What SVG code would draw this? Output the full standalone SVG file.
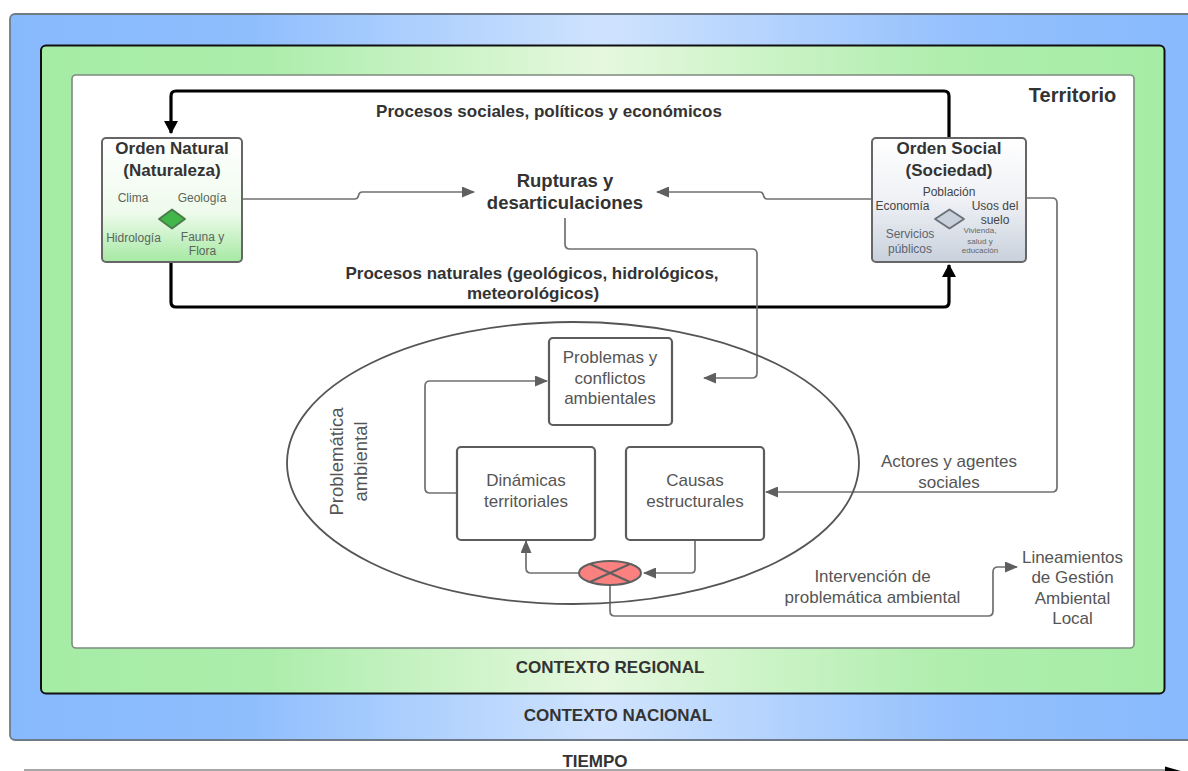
<svg xmlns="http://www.w3.org/2000/svg" width="1188" height="771" viewBox="0 0 1188 771">
<defs>
<linearGradient id="gBlue" x1="0" y1="0" x2="1" y2="0"><stop offset="0" stop-color="#87b9fd"/><stop offset="0.2" stop-color="#8fbefd"/><stop offset="0.5" stop-color="#cfe3fe"/><stop offset="0.8" stop-color="#94c0fd"/><stop offset="1" stop-color="#87b9fd"/></linearGradient>
<linearGradient id="gGreen" x1="0" y1="0" x2="1" y2="0"><stop offset="0" stop-color="#a5eca5"/><stop offset="0.2" stop-color="#acedab"/><stop offset="0.5" stop-color="#e6f8de"/><stop offset="0.8" stop-color="#b0eeae"/><stop offset="1" stop-color="#a5eca5"/></linearGradient>
<linearGradient id="gNat" x1="0" y1="0" x2="0" y2="1"><stop offset="0" stop-color="#ffffff"/><stop offset="0.6" stop-color="#eefbec"/><stop offset="1" stop-color="#a6e9a2"/></linearGradient>
<linearGradient id="gSoc" x1="0" y1="0" x2="0" y2="1"><stop offset="0" stop-color="#ffffff"/><stop offset="0.5" stop-color="#eff1f5"/><stop offset="1" stop-color="#c9d1dd"/></linearGradient>
<marker id="ag" markerUnits="userSpaceOnUse" markerWidth="13" markerHeight="11" refX="12" refY="5.500" orient="auto"><path d="M0 0L13 5.500L0 11Z" fill="#5f5f5f"/></marker>
<marker id="ab" markerUnits="userSpaceOnUse" markerWidth="13" markerHeight="14" refX="12" refY="7" orient="auto"><path d="M0 0L13 7L0 14Z" fill="#000"/></marker>
</defs>
<style>
text{font-family:"Liberation Sans",Arial,sans-serif;fill:#333;text-anchor:middle}
.b{font-weight:700}
.h{font-size:17px;font-weight:700}
.n{font-size:17px;fill:#555}
.g{fill:#5c665c;font-size:12px}
.t12{font-size:12px;fill:#444}.t8{font-size:8px;fill:#666}
.c{fill:none;stroke:#707070;stroke-width:1.700;marker-end:url(#ag)}
.k{fill:none;stroke:#000;stroke-width:3.200;marker-end:url(#ab)}
.box{fill:#fff;stroke:#5c5c5c;stroke-width:2.200}
</style>
<rect width="1188" height="771" fill="#fff"/>
<g id="contexto-nacional"><rect x="10" y="14" width="1190" height="726" rx="5" fill="url(#gBlue)" stroke="#707a86" stroke-width="1.800"/><text x="618" y="721" class="h">CONTEXTO NACIONAL</text></g>
<g id="contexto-regional"><rect x="41" y="45.500" width="1123.500" height="648" rx="5" fill="url(#gGreen)" stroke="#111" stroke-width="2"/><text x="610" y="673" class="h">CONTEXTO REGIONAL</text></g>
<g id="territorio"><rect x="72" y="75" width="1062" height="573" rx="4" fill="#fff" stroke="#7f8a7f" stroke-width="1.600"/><text x="1072.500" y="102" class="b" font-size="20">Territorio</text></g>
<g id="connectors">
<path class="k" d="M949 138V96Q949 91 944 91H176Q171 91 171 96V133"/>
<path class="k" d="M171 262V302Q171 307 176 307H944Q949 307 949 302V265"/>
<path class="c" d="M243 199H355Q357 199 358 197L359 194Q360 192 362 192H474"/>
<path class="c" d="M872 199H767Q765 199 764 197L763 194Q762 192 760 192H657"/>
<path class="c" d="M565 218V244Q565 249 570 249H752Q757 249 757 254V373Q757 378 752 378H704"/>
<path class="c" d="M1026 198H1052Q1057 198 1057 203V487Q1057 492 1052 492H766"/>
<path class="c" d="M457 493H430Q425 493 425 488V386Q425 381 430 381H547"/>
<path class="c" d="M695 540V569Q695 573 691 573H644"/>
<path class="c" d="M579 573H531Q526 573 526 568V541"/>
<path class="c" d="M610 585V611Q610 616 615 616H988Q993 616 993 611V572Q993 567 998 567H1017"/>
<path d="M24 770H1170" fill="none" stroke="#8a8a8a" stroke-width="1.600"/>
<path d="M1165 766.500L1186 772.500L1165 778Z" fill="#000"/>
</g>
<g id="problematica"><ellipse cx="573" cy="463" rx="286" ry="141" fill="none" stroke="#555" stroke-width="1.800"/><text transform="translate(343 461.500) rotate(-90)" font-size="18.500" style="fill:#555"><tspan x="0" y="0">Problemática</tspan><tspan x="0" y="24">ambiental</tspan></text></g>
<g id="orden-natural"><rect x="102" y="138" width="140" height="124" rx="4" fill="url(#gNat)" stroke="#666" stroke-width="2"/>
<text x="172" y="154" class="h">Orden Natural</text><text x="172" y="176" class="h">(Naturaleza)</text>
<text x="133" y="202" class="g">Clima</text><text x="202" y="202" class="g">Geología</text><text x="133.500" y="242" class="g">Hidrología</text><text x="202.500" y="241" class="g">Fauna y</text><text x="202.500" y="255" class="g">Flora</text>
<path d="M172 209.500L185 219L172 228.500L159 219Z" fill="#41b649" stroke="#4a7a4c" stroke-width="1.800" stroke-linejoin="round"/></g>
<g id="orden-social"><rect x="872" y="138" width="154" height="124" rx="4" fill="url(#gSoc)" stroke="#666" stroke-width="2"/>
<text x="949" y="154" class="h">Orden Social</text><text x="949" y="176" class="h">(Sociedad)</text>
<text x="949" y="196" class="t12">Población</text><text x="902.500" y="210" class="t12">Economía</text><text x="995" y="210" class="t12">Usos del</text><text x="995" y="224" class="t12">suelo</text><text x="910" y="238" class="t12" style="fill:#5c6470">Servicios</text><text x="910" y="253" class="t12" style="fill:#5c6470">públicos</text>
<text x="980" y="233" class="t8">Vivienda,</text><text x="980" y="244" class="t8">salud y</text><text x="980" y="253" class="t8">educación</text>
<path d="M949.500 209.500L964 219L949.500 228.500L935 219Z" fill="#c9d1dd" stroke="#6a7078" stroke-width="1.800" stroke-linejoin="round"/></g>
<g id="rupturas"><text x="565" y="187" class="b" font-size="18.500">Rupturas y</text><text x="565" y="209" class="b" font-size="18.500">desarticulaciones</text></g>
<g id="label-sociales"><text x="549" y="117" class="h">Procesos sociales, políticos y económicos</text></g>
<g id="label-naturales"><text x="532" y="279" class="h">Procesos naturales (geológicos, hidrológicos,</text><text x="533" y="299" class="h">meteorológicos)</text></g>
<g id="problemas"><rect x="549" y="338" width="123" height="87" rx="4" class="box"/><text x="610" y="363" class="n">Problemas y</text><text x="610" y="384" class="n">conflictos</text><text x="610" y="404" class="n">ambientales</text></g>
<g id="dinamicas"><rect x="457" y="447" width="138" height="93" rx="4" class="box"/><text x="526" y="486" class="n">Dinámicas</text><text x="526" y="507" class="n">territoriales</text></g>
<g id="causas"><rect x="626" y="447" width="138" height="93" rx="4" class="box"/><text x="695" y="486" class="n">Causas</text><text x="695" y="507" class="n">estructurales</text></g>
<g id="cruce"><ellipse cx="610" cy="573" rx="31" ry="12" fill="#fb8080" stroke="#5f5f5f" stroke-width="2"/><path d="M590 564L630 582M630 564L590 582" stroke="#5f5f5f" stroke-width="2" fill="none"/></g>
<g id="label-actores"><text x="949" y="467" class="n">Actores y agentes</text><text x="949" y="488" class="n">sociales</text></g>
<g id="label-intervencion"><text x="872.500" y="582" class="n">Intervención de</text><text x="872.500" y="603" class="n">problemática ambiental</text></g>
<g id="lineamientos"><text x="1072.500" y="563" class="n">Lineamientos</text><text x="1072.500" y="583" class="n">de Gestión</text><text x="1072.500" y="604" class="n">Ambiental</text><text x="1072.500" y="624" class="n">Local</text></g>
<g id="tiempo"><text x="595" y="767" class="h">TIEMPO</text></g>
</svg>
